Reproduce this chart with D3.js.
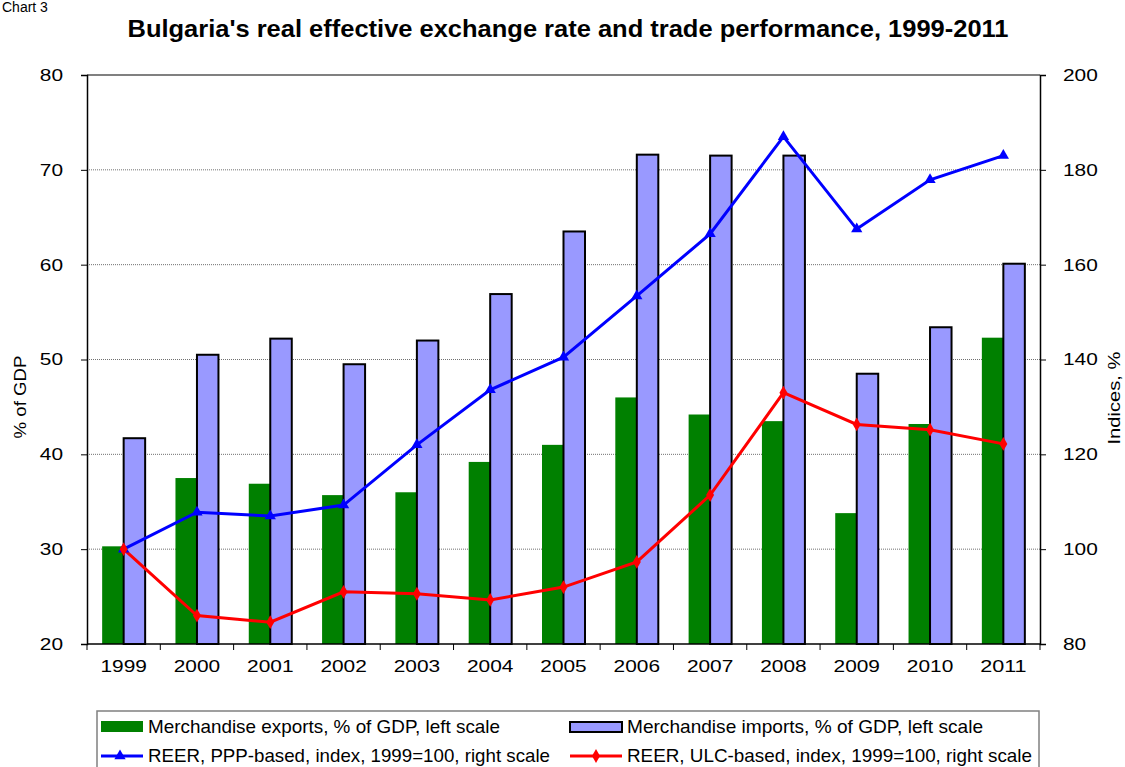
<!DOCTYPE html>
<html>
<head>
<meta charset="utf-8">
<script src="https://cdn.jsdelivr.net/npm/d3@7"></script>
<style>
  body { margin: 0; background: #fff; }
  svg { font-family: Arial, "Liberation Sans", sans-serif; }
</style>
</head>
<body>
<div id="chart"></div>
<script>
// values
var years = ['1999', '2000', '2001', '2002', '2003', '2004', '2005', '2006', '2007', '2008', '2009', '2010', '2011'];
var exportsGdp = [30.3, 37.5, 36.9, 35.7, 36.0, 39.2, 41.0, 46.0, 44.2, 43.5, 33.8, 43.2, 52.3];
var importsGdp = [41.7, 50.5, 52.2, 49.5, 52.0, 56.9, 63.5, 71.6, 71.5, 71.5, 48.5, 53.4, 60.1];
var reerPpp = [100, 107.8, 107.0, 109.3, 122.0, 133.6, 140.5, 153.4, 166.5, 187.0, 167.5, 177.9, 183.0];
var reerUlc = [100, 86.0, 84.6, 91.0, 90.6, 89.3, 92.0, 97.3, 111.4, 133.0, 126.3, 125.2, 122.2];
var leftTicks = [20, 30, 40, 50, 60, 70, 80];
var rightTicks = [80, 100, 120, 140, 160, 180, 200];
var legendLabels = [
  'Merchandise exports, % of GDP, left scale',
  'Merchandise imports, % of GDP, left scale',
  'REER, PPP-based, index, 1999=100, right scale',
  'REER, ULC-based, index, 1999=100, right scale'
];

var width = 1125, height = 767;
var plotLeft = 87, plotRight = 1040, plotTop = 75, plotBottom = 644;

var svg = d3.select('#chart').append('svg')
    .attr('width', width)
    .attr('height', height);

var x = d3.scaleBand().domain(years).range([plotLeft, plotRight]).paddingInner(0).paddingOuter(0);
var xSub = d3.scaleBand().domain(['exp', 'imp']).range([0, x.bandwidth()]).paddingInner(0).paddingOuter(0.705);
var yL = d3.scaleLinear().domain([20, 80]).range([plotBottom, plotTop]);
var yR = d3.scaleLinear().domain([80, 200]).range([plotBottom, plotTop]);

// chart label in the top-left corner
svg.append('text')
    .attr('x', 2).attr('y', 12)
    .style('font-size', '14px')
    .text('Chart 3');

svg.append('text')
    .attr('x', 568).attr('y', 37)
    .attr('text-anchor', 'middle')
    .style('font-size', '24px')
    .style('font-weight', 'bold')
    .attr('textLength', 881)
    .attr('lengthAdjust', 'spacingAndGlyphs')
    .text("Bulgaria's real effective exchange rate and trade performance, 1999-2011");

// gridlines
svg.append('g').selectAll('line')
    .data(leftTicks.slice(1, -1))
    .enter().append('line')
    .attr('x1', plotLeft).attr('x2', plotRight)
    .attr('y1', function (d) { return yL(d); })
    .attr('y2', function (d) { return yL(d); })
    .attr('stroke', '#707070')
    .attr('stroke-width', 1)
    .attr('stroke-dasharray', '1,1');

svg.append('line')
    .attr('x1', plotLeft).attr('x2', plotRight)
    .attr('y1', plotTop).attr('y2', plotTop)
    .attr('stroke', '#808080')
    .attr('stroke-width', 2);

// bars
var groups = svg.append('g').selectAll('g')
    .data(years)
    .enter().append('g')
    .attr('transform', function (d) { return 'translate(' + x(d) + ',0)'; });

groups.append('rect')
    .attr('x', xSub('exp'))
    .attr('width', xSub.bandwidth())
    .attr('y', function (d, i) { return yL(exportsGdp[i]); })
    .attr('height', function (d, i) { return yL(20) - yL(exportsGdp[i]); })
    .attr('fill', '#008000');

groups.append('rect')
    .attr('x', xSub('imp'))
    .attr('width', xSub.bandwidth())
    .attr('y', function (d, i) { return yL(importsGdp[i]); })
    .attr('height', function (d, i) { return yL(20) - yL(importsGdp[i]); })
    .attr('fill', '#9999FF')
    .attr('stroke', '#000')
    .attr('stroke-width', 2);

// axes
var axisL = svg.append('g')
    .attr('transform', 'translate(' + plotLeft + ',0)')
    .call(d3.axisLeft(yL).tickValues(leftTicks).tickSize(6).tickPadding(18));
var axisR = svg.append('g')
    .attr('transform', 'translate(' + plotRight + ',0)')
    .call(d3.axisRight(yR).tickValues(rightTicks).tickSize(6).tickPadding(17));
var axisB = svg.append('g')
    .attr('transform', 'translate(0,' + plotBottom + ')')
    .call(d3.axisBottom(x).tickSize(0).tickPadding(16));

axisB.selectAll('.tick')
    .append('line')
    .attr('x1', -x.bandwidth() / 2).attr('x2', -x.bandwidth() / 2)
    .attr('y1', 0).attr('y2', 6)
    .attr('stroke', '#000');
axisB.append('line')
    .attr('x1', plotRight).attr('x2', plotRight)
    .attr('y1', 0).attr('y2', 6)
    .attr('stroke', '#000');

[axisL, axisR, axisB].forEach(function (a) {
    a.select('.domain').attr('stroke', '#000').attr('stroke-width', 1.5);
    a.selectAll('text')
        .style('font-size', '17px')
        .style('font-family', 'Arial, "Liberation Sans", sans-serif')
        .attr('fill', '#000')
        .attr('lengthAdjust', 'spacingAndGlyphs')
        .attr('textLength', function () { return this.textContent.length * 11.6; });
});
axisB.select('.domain').attr('d', 'M' + plotLeft + ',0H' + plotRight);

svg.append('text')
    .attr('transform', 'translate(26,397) rotate(-90)')
    .attr('text-anchor', 'middle')
    .style('font-size', '17px')
    .attr('textLength', 83)
    .attr('lengthAdjust', 'spacingAndGlyphs')
    .text('% of GDP');

svg.append('text')
    .attr('transform', 'translate(1120,398) rotate(-90)')
    .attr('text-anchor', 'middle')
    .style('font-size', '17px')
    .attr('textLength', 93)
    .attr('lengthAdjust', 'spacingAndGlyphs')
    .text('Indices, %');

// lines
var cx = function (i) { return x(years[i]) + x.bandwidth() / 2; };
var line = d3.line().x(function (d, i) { return cx(i); }).y(function (d) { return yR(d); });

svg.append('path')
    .datum(reerPpp)
    .attr('d', line)
    .attr('fill', 'none')
    .attr('stroke', '#0000FF')
    .attr('stroke-width', 3);

svg.append('path')
    .datum(reerUlc)
    .attr('d', line)
    .attr('fill', 'none')
    .attr('stroke', '#FF0000')
    .attr('stroke-width', 3);

var tri = d3.symbol().type(d3.symbolTriangle).size(55);
var dia = d3.symbol().type(d3.symbolDiamond).size(55);

svg.append('g').selectAll('path')
    .data(reerPpp)
    .enter().append('path')
    .attr('d', tri)
    .attr('transform', function (d, i) { return 'translate(' + cx(i) + ',' + yR(d) + ')'; })
    .attr('fill', '#0000FF');

svg.append('g').selectAll('path')
    .data(reerUlc)
    .enter().append('path')
    .attr('d', dia)
    .attr('transform', function (d, i) { return 'translate(' + cx(i) + ',' + yR(d) + ')'; })
    .attr('fill', '#FF0000');

// legend
var legend = svg.append('g');
legend.append('rect')
    .attr('x', 97).attr('y', 711)
    .attr('width', 942).attr('height', 70)
    .attr('fill', '#fff')
    .attr('stroke', '#808080')
    .attr('stroke-width', 1.5);

// symbol left edge, symbol right edge, row centre
var legPos = [[101, 143, 727], [570, 622, 727], [101, 143, 756], [570, 622, 756]];
var legWidths = [352, 356, 402, 405];

legend.append('rect')
    .attr('x', legPos[0][0]).attr('y', legPos[0][2] - 6)
    .attr('width', legPos[0][1] - legPos[0][0]).attr('height', 11)
    .attr('fill', '#008000');
legend.append('rect')
    .attr('x', legPos[1][0]).attr('y', legPos[1][2] - 5)
    .attr('width', legPos[1][1] - legPos[1][0]).attr('height', 10)
    .attr('fill', '#9999FF')
    .attr('stroke', '#000')
    .attr('stroke-width', 2);

legend.append('line')
    .attr('x1', legPos[2][0]).attr('x2', legPos[2][1])
    .attr('y1', legPos[2][2]).attr('y2', legPos[2][2])
    .attr('stroke', '#0000FF').attr('stroke-width', 3);
legend.append('path')
    .attr('d', tri)
    .attr('transform', 'translate(' + (legPos[2][0] + 19) + ',' + legPos[2][2] + ')')
    .attr('fill', '#0000FF');

legend.append('line')
    .attr('x1', legPos[3][0]).attr('x2', legPos[3][1])
    .attr('y1', legPos[3][2]).attr('y2', legPos[3][2])
    .attr('stroke', '#FF0000').attr('stroke-width', 3);
legend.append('path')
    .attr('d', dia)
    .attr('transform', 'translate(' + ((legPos[3][0] + legPos[3][1]) / 2) + ',' + legPos[3][2] + ')')
    .attr('fill', '#FF0000');

legend.selectAll('text.leg')
    .data(legendLabels)
    .enter().append('text')
    .attr('class', 'leg')
    .attr('x', function (d, i) { return legPos[i][1] + 5; })
    .attr('y', function (d, i) { return legPos[i][2] + 6; })
    .style('font-size', '19px')
    .attr('textLength', function (d, i) { return legWidths[i]; })
    .attr('lengthAdjust', 'spacingAndGlyphs')
    .text(function (d) { return d; });
</script>
</body>
</html>
